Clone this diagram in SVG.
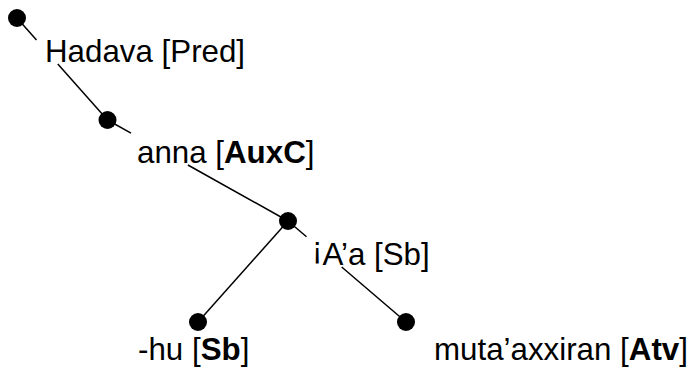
<svg xmlns="http://www.w3.org/2000/svg" width="692" height="371" viewBox="0 0 692 371">
<style>
.bg{fill:#fff}
.edge{stroke:#000;stroke-width:1.5;fill:none}
.node{fill:#000}
.lbl{font-family:"Liberation Sans",Arial,sans-serif;font-size:31.3px;fill:#000}
.b{font-weight:bold}
</style>
<rect class="bg" x="0" y="0" width="692" height="371"/>
<g id="connectors">
<path class="edge" d="M17,18 L36.5,40 M57.8,64 L107.5,120"/>
<path class="edge" d="M107.5,120 L131,133.2 M187.9,165 L288,221"/>
<path class="edge" d="M288,221 L306.5,236.8 M341.7,267 L406,322"/>
<path class="edge" d="M288,221 L198,322"/>
</g>
<g id="n1"><circle class="node" cx="17" cy="18" r="9"/><text class="lbl" x="45" y="62">Hadava [Pred]</text></g>
<g id="n2"><circle class="node" cx="107.5" cy="120" r="9"/><text class="lbl" x="137" y="163">anna [<tspan class="b">AuxC</tspan>]</text></g>
<g id="n3"><circle class="node" cx="288" cy="221" r="9"/><text class="lbl" x="312" y="265"><tspan baseline-shift="6px">¡</tspan>A’a [Sb]</text></g>
<g id="n4"><circle class="node" cx="198" cy="322" r="9"/><text class="lbl" x="138" y="360">-hu [<tspan class="b">Sb</tspan>]</text></g>
<g id="n5"><circle class="node" cx="406" cy="322" r="9"/><text class="lbl" x="434" y="360">muta’axxiran [<tspan class="b">Atv</tspan>]</text></g>
</svg>
